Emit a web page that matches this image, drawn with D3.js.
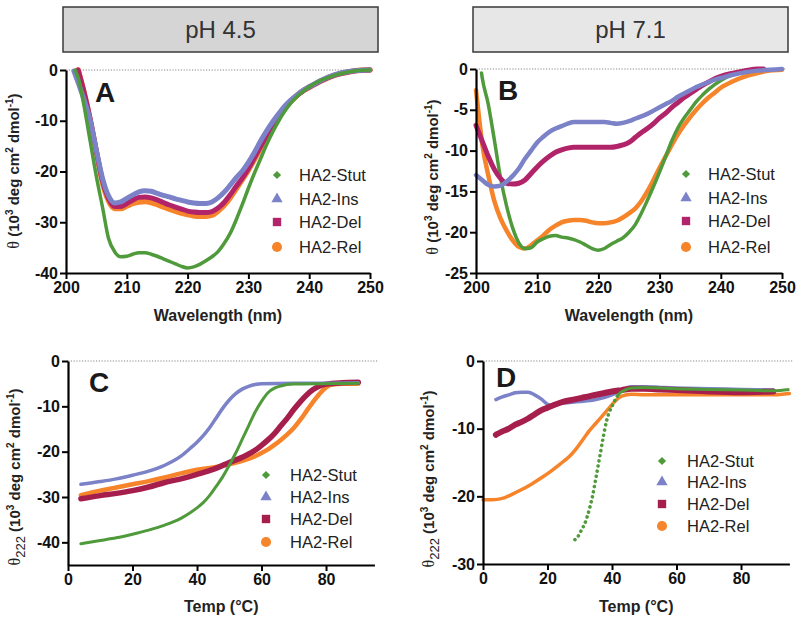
<!DOCTYPE html>
<html><head><meta charset="utf-8">
<script src="https://cdn.jsdelivr.net/npm/d3@7"></script>
<style>body{margin:0;background:#fff} text{font-family:"Liberation Sans",Arial,sans-serif}</style>
</head><body>
<svg id="c" width="800" height="622"></svg>
<script>
// ---------- DATA ----------
const seriesNames = ["HA2-Stut","HA2-Ins","HA2-Del","HA2-Rel"];
const headers = ["pH 4.5","pH 7.1"];

// Panel A (pH 4.5, wavelength scan)
const A_stut_x = [201.5,202,203,204,205,206,207,208,209,210,211,212,213,214,215,216,217,218,219,220,221,222,223,224,225,226,227,228,229,230,231,232,233,234,235,236,237,238,239,240,242,244,246,248,250];
const A_stut_y = [0,-1.5,-7.3,-14.2,-21,-27,-33.2,-35.8,-36.8,-36.7,-36.3,-36.0,-36.0,-36.3,-36.7,-37.2,-37.7,-38.2,-38.7,-39.0,-38.8,-38.3,-37.6,-36.8,-35.8,-34.2,-32.2,-29.5,-26.5,-23.3,-20.3,-17.5,-14.7,-12.2,-10,-8.1,-6.5,-5.2,-4.2,-3.3,-2.0,-1.1,-0.5,-0.1,0];
const A_ins_x = [201.3,202,203,204,205,206,207,208,209,210,211,212,213,214,215,216,217,218,219,220,221,222,223,224,225,226,227,228,229,230,231,232,233,234,235,236,237,238,239,240,242,244,246,248,250];
const A_ins_y = [-0.2,-2.5,-6,-10,-15.8,-21.3,-24.8,-26.2,-26.0,-25.3,-24.6,-24.0,-23.8,-23.9,-24.3,-24.7,-25.0,-25.4,-25.7,-26.0,-26.2,-26.3,-26.3,-26.0,-25.2,-24.1,-22.7,-21.2,-19.9,-18.2,-16.2,-14.0,-12.0,-10.2,-8.6,-7.1,-5.9,-4.9,-4.0,-3.3,-2.0,-1.0,-0.4,-0.1,0];
const A_del_x = [202,203,204,205,206,207,208,209,210,211,212,213,214,215,216,217,218,219,220,221,222,223,224,225,226,227,228,229,230,231,232,233,234,235,236,237,238,239,240,242,244,246,248,250];
const A_del_y = [0,-4.5,-9.8,-16,-21.8,-25.3,-26.9,-26.9,-26.3,-25.6,-25.1,-25.0,-25.2,-25.6,-26.1,-26.6,-27.0,-27.4,-27.8,-28.0,-28.1,-28.1,-27.9,-27.2,-26.1,-24.6,-22.9,-21.3,-19.4,-17.3,-15.1,-12.9,-10.8,-9.0,-7.4,-6.1,-5.0,-4.1,-3.4,-2.1,-1.1,-0.5,-0.1,0];
const A_rel_x = [202,203,204,205,206,207,208,209,210,211,212,213,214,215,216,217,218,219,220,221,222,223,224,225,226,227,228,229,230,231,232,233,234,235,236,237,238,239,240,242,244,246,248,250];
const A_rel_y = [0,-4.6,-10,-16.3,-22.2,-25.8,-27.3,-27.3,-26.8,-26.3,-26.0,-25.9,-26.1,-26.5,-27.0,-27.4,-27.8,-28.2,-28.5,-28.7,-28.8,-28.8,-28.6,-27.8,-26.7,-25.2,-23.4,-21.6,-19.7,-17.6,-15.4,-13.1,-11.0,-9.1,-7.5,-6.2,-5.0,-4.1,-3.4,-2.1,-1.1,-0.5,-0.1,0];

// Panel B (pH 7.1, wavelength scan)
const B_stut_x = [200.9,201,202,203,204,205,206,207,208,209,210,211,212,213,214,215,216,217,218,219,220,221,222,223,224,225,226,227,228,229,230,231,232,233,234,235,236,237,238,240,242,244,246,247];
const B_stut_y = [-0.5,-1.0,-4.3,-8.7,-13.3,-16.8,-19.5,-21.3,-22.0,-21.9,-21.2,-20.8,-20.5,-20.4,-20.6,-20.7,-20.9,-21.2,-21.6,-22.0,-22.2,-22.0,-21.5,-21.1,-20.7,-20.0,-19.1,-17.7,-16.1,-14.4,-12.6,-10.7,-8.8,-7.2,-6.0,-5.0,-4.0,-3.2,-2.5,-1.4,-0.7,-0.3,-0.05,0];
const B_ins_x = [200,201,202,203,204,205,206,207,208,209,210,211,212,213,214,215,216,217,218,219,220,221,222,223,224,225,226,227,228,229,230,231,232,233,234,235,236,237,238,239,240,242,244,246,248,250];
const B_ins_y = [-13.0,-13.6,-14.2,-14.4,-14.3,-13.8,-13.1,-12.2,-11.0,-10.0,-9.0,-8.3,-7.7,-7.3,-7.0,-6.7,-6.5,-6.5,-6.5,-6.5,-6.5,-6.5,-6.6,-6.7,-6.6,-6.4,-6.1,-5.8,-5.5,-5.1,-4.7,-4.3,-3.9,-3.4,-3.0,-2.6,-2.2,-1.9,-1.6,-1.3,-1.1,-0.7,-0.4,-0.2,-0.1,0];
const B_del_x = [200,201,202,203,204,205,206,207,208,209,210,211,212,213,214,215,216,217,218,219,220,221,222,223,224,225,226,227,228,229,230,231,232,233,234,235,236,237,238,239,240,242,244,246,247];
const B_del_y = [-6.9,-8.8,-10.7,-12.3,-13.4,-14.0,-14.1,-14.0,-13.6,-12.8,-12.0,-11.3,-10.7,-10.2,-9.9,-9.7,-9.6,-9.6,-9.6,-9.6,-9.6,-9.6,-9.6,-9.5,-9.3,-9.0,-8.4,-7.8,-7.3,-6.7,-6.0,-5.4,-4.7,-4.1,-3.5,-3.0,-2.5,-2.0,-1.6,-1.2,-0.9,-0.5,-0.2,0,0];
const B_rel_x = [200,200.5,201,202,203,204,205,206,207,208,209,210,211,212,213,214,215,216,217,218,219,220,221,222,223,224,225,226,227,228,229,230,231,232,233,234,235,236,237,238,239,240,242,244,246,248,250];
const B_rel_y = [-2.6,-6,-9.1,-13,-16.2,-18.3,-19.8,-21.0,-21.8,-22.0,-21.6,-21.0,-20.4,-19.7,-19.2,-18.8,-18.6,-18.5,-18.5,-18.6,-18.8,-18.9,-18.9,-18.8,-18.6,-18.2,-17.7,-17.1,-16.2,-15.0,-13.6,-12.1,-10.7,-9.3,-8.0,-6.9,-5.9,-5.0,-4.2,-3.5,-2.9,-2.3,-1.5,-0.9,-0.5,-0.2,-0.1];

// Panel C (pH 4.5, thermal melt)
const C_stut_x = [4,10,15,20,25,30,35,38,40,42,44,46,48,50,52,54,56,58,60,62,64,66,70,80,90];
const C_stut_y = [-40.3,-39.6,-39.0,-38.2,-37.3,-36.2,-34.7,-33.4,-32.4,-31.2,-29.6,-27.6,-25.5,-23.0,-20.3,-17.3,-14.3,-11.3,-8.9,-7.0,-6.0,-5.5,-5.1,-5.0,-4.9];
const C_ins_x = [4,10,15,20,25,30,35,38,40,42,44,46,48,50,52,54,56,58,60,70,80,90];
const C_ins_y = [-27.2,-26.6,-26.0,-25.2,-24.3,-23.0,-21.0,-19.2,-17.9,-16.4,-14.6,-12.5,-10.4,-8.6,-7.2,-6.2,-5.6,-5.2,-5.0,-4.9,-4.9,-4.8];
const C_del_x = [4,10,15,20,25,30,35,40,45,50,55,58,60,62,64,66,68,70,72,74,76,78,80,85,90];
const C_del_y = [-30.4,-29.7,-29.2,-28.6,-27.8,-26.8,-26.0,-25.0,-23.9,-22.4,-20.9,-19.7,-18.6,-17.4,-16.0,-14.3,-12.6,-10.7,-9.0,-7.5,-6.3,-5.5,-5.1,-4.8,-4.7];
const C_rel_x = [4,10,15,20,25,30,35,40,45,50,55,58,60,62,64,66,68,70,72,74,76,78,80,82,85,90];
const C_rel_y = [-29.6,-28.6,-27.9,-27.2,-26.5,-25.7,-24.8,-24.0,-23.5,-22.8,-21.8,-21.0,-20.3,-19.5,-18.5,-17.4,-16.2,-14.8,-13.0,-11.0,-9.0,-7.2,-5.8,-5.2,-5.0,-5.0];

// Panel D (pH 7.1, thermal melt)
const D_stut_x = [28.5,29.5,30.5,31.5,32.3,33.2,34,34.7,35.5,36.3,37.3,38.4,39.2,39.9,40.7,41.5,42.5,44,46,50,55,60,70,80,90,95];
const D_stut_y = [-26.4,-25.9,-25.0,-24.1,-23.0,-21.5,-19.9,-18.1,-16.0,-13.9,-11.2,-8.7,-7.5,-6.8,-6.0,-5.3,-4.7,-4.3,-4.0,-3.9,-4.0,-4.1,-4.2,-4.3,-4.4,-4.2];
const D_ins_x = [4,6,8,10,12,14,16,18,20,21,22,25,30,35,40,43,46,50,55,60,70,80,90];
const D_ins_y = [-5.7,-5.3,-5.0,-4.7,-4.6,-4.6,-5.0,-5.6,-6.4,-6.6,-6.4,-6.2,-6.0,-5.7,-5.0,-4.3,-3.8,-3.8,-3.9,-4.0,-4.1,-4.2,-4.3];
const D_del_x = [4,6,8,10,12,14,16,18,20,22,25,28,31,34,37,40,43,46,50,55,60,70,80,90];
const D_del_y = [-10.9,-10.4,-10.0,-9.4,-9.0,-8.5,-7.9,-7.3,-6.9,-6.5,-6.0,-5.7,-5.4,-5.1,-4.8,-4.5,-4.3,-4.1,-4.1,-4.2,-4.3,-4.5,-4.6,-4.5];
const D_rel_x = [0,3,6,9,12,15,18,21,24,27,29,31,33,35,37,39,41,43,46,50,60,70,80,90,95];
const D_rel_y = [-20.5,-20.5,-20.3,-19.7,-19.0,-18.2,-17.3,-16.3,-15.2,-14.0,-12.9,-11.6,-10.3,-9.2,-8.1,-7.0,-5.9,-5.2,-4.9,-5.0,-5.0,-5.0,-5.0,-5.0,-4.8];

const wlTicks = [200,210,220,230,240,250];
const tempTicks = [0,20,40,60,80];
const A_yTicks = [0,-10,-20,-30,-40];
const B_yTicks = [0,-5,-10,-15,-20,-25];
const C_yTicks = [0,-10,-20,-30,-40];
const D_yTicks = [0,-10,-20,-30];

// ---------- STYLE ----------
const green = "#4f9a3a", blue = "#7b82c7", orange = "#f5842a";
const magAB = "#b2246a", magCD = "#a61f4c";
const svg = d3.select("#c");

// header boxes
const hdr = [{t:headers[0], x0:63, x1:378, fill:"#d5d5d5"},{t:headers[1], x0:473, x1:788, fill:"#e7e7e7"}];
hdr.forEach(h=>{
  svg.append("rect").attr("x",h.x0).attr("y",7).attr("width",h.x1-h.x0).attr("height",45)
    .attr("fill",h.fill).attr("stroke","#3a3a3a").attr("stroke-width",1.5);
  svg.append("text").attr("x",(h.x0+h.x1)/2).attr("y",38).attr("text-anchor","middle")
    .attr("font-size",24).attr("fill","#333").text(h.t);
});

const panels = [
 {L:"A", xr:[66,370], yr:[273,70], xd:[200,250], yd:[-40,0], xt:wlTicks, yt:A_yTicks, mag:magAB,
  xl:"Wavelength (nm)", xlY:321, sub:false, ytX:19, ytY:171, letter:[95,102],
  leg:{mx:277, tx:299, ys:[175,199,222,247]},
  s:[[A_rel_x,A_rel_y,orange,5.5],[A_del_x,A_del_y,magAB,5],[A_ins_x,A_ins_y,blue,5],[A_stut_x,A_stut_y,green,3.5]]},
 {L:"B", xr:[476,782], yr:[273,69], xd:[200,250], yd:[-25,0], xt:wlTicks, yt:B_yTicks, mag:magAB,
  xl:"Wavelength (nm)", xlY:321, sub:false, ytX:438, ytY:177, letter:[498,100],
  leg:{mx:686, tx:708, ys:[174,198,221,247]},
  s:[[B_rel_x,B_rel_y,orange,4.5],[B_stut_x,B_stut_y,green,3.5],[B_del_x,B_del_y,magAB,5],[B_ins_x,B_ins_y,blue,4.5]]},
 {L:"C", xr:[68,374.4], yr:[565,361], xd:[0,95], yd:[-45,0], xt:tempTicks, yt:C_yTicks, mag:magCD,
  xl:"Temp (°C)", xlY:612, sub:true, ytX:20, ytY:477, letter:[89,392],
  leg:{mx:266, tx:290, ys:[475,497,519,542]},
  s:[[C_rel_x,C_rel_y,orange,4.5],[C_del_x,C_del_y,magCD,5.5],[C_ins_x,C_ins_y,blue,3.5],[C_stut_x,C_stut_y,green,3]]},
 {L:"D", xr:[483,789.4], yr:[564,361], xd:[0,95], yd:[-30,0], xt:tempTicks, yt:D_yTicks, mag:magCD,
  xl:"Temp (°C)", xlY:612, sub:true, ytX:434, ytY:479, letter:[496,387],
  leg:{mx:662, tx:687, ys:[461,482,504,526]},
  s:[[D_rel_x,D_rel_y,orange,3.5],[D_ins_x,D_ins_y,blue,3.5],[D_del_x,D_del_y,magCD,6],[D_stut_x,D_stut_y,green,3,"dots"]]}
];

panels.forEach(p=>{
  const x = d3.scaleLinear().domain(p.xd).range(p.xr);
  const y = d3.scaleLinear().domain(p.yd).range(p.yr);
  const g = svg.append("g");
  // zero line
  g.append("line").attr("x1",p.xr[0]).attr("x2",p.xr[1]+4).attr("y1",y(0)).attr("y2",y(0))
    .attr("stroke","#888").attr("stroke-width",1).attr("stroke-dasharray","1.2,1.6");
  // series
  const line = d3.line().x(d=>x(d[0])).y(d=>y(d[1])).curve(d3.curveMonotoneX);
  p.s.forEach(([xs,ys,col,w,mode])=>{
    const pts = xs.map((v,i)=>[v,ys[i]]);
    if(mode==="dots"){
      const steep = pts.filter(d=>d[0]<=42.5), flat = pts.filter(d=>d[0]>=41.5);
      g.append("path").attr("d",line(steep)).attr("fill","none").attr("stroke",col)
        .attr("stroke-width",3.6).attr("stroke-linecap","round").attr("stroke-dasharray","0.01,5.2");
      g.append("path").attr("d",line(flat)).attr("fill","none").attr("stroke",col)
        .attr("stroke-width",w).attr("stroke-linejoin","round");
    } else {
      g.append("path").attr("d",line(pts)).attr("fill","none").attr("stroke",col)
        .attr("stroke-width",w).attr("stroke-linejoin","round").attr("stroke-linecap","round");
    }
  });
  // axes
  const ax = g.append("g").attr("transform",`translate(0,${p.yr[0]})`)
    .call(d3.axisBottom(x).tickValues(p.xt).tickSize(6).tickSizeOuter(0).tickPadding(3).tickFormat(d3.format("d")));
  const ay = g.append("g").attr("transform",`translate(${p.xr[0]},0)`)
    .call(d3.axisLeft(y).tickValues(p.yt).tickSize(6).tickSizeOuter(0).tickPadding(2).tickFormat(d3.format("d")));
  [ax,ay].forEach(a=>{
    a.select(".domain").attr("stroke","#000").attr("stroke-width",2.2);
    a.selectAll(".tick line").attr("stroke","#000").attr("stroke-width",2);
    a.selectAll("text").attr("font-size",16).attr("font-weight","bold").attr("fill","#111")
      .attr("font-family","'Liberation Sans',Arial,sans-serif");
  });
  ay.selectAll("text").text(d=>d===0?"0":"-"+Math.abs(d));
  // x title
  g.append("text").attr("x",(p.xr[0]+p.xr[1])/2).attr("y",p.xlY).attr("text-anchor","middle")
    .attr("font-size",16).attr("font-weight","bold").attr("fill","#222").text(p.xl);
  // y title
  const yt = g.append("text").attr("transform",`translate(${p.ytX},${p.ytY}) rotate(-90)`)
    .attr("text-anchor","middle").attr("font-size",15).attr("font-weight","bold").attr("fill","#222");
  yt.append("tspan").attr("font-family","'Liberation Serif','DejaVu Serif',serif").attr("font-weight","normal").attr("font-size",16).text("θ");
  if(p.sub) yt.append("tspan").attr("dy",5).attr("font-size",13).attr("font-weight","normal").text("222");
  yt.append("tspan").attr("dy",p.sub?-5:0).text(" (10");
  yt.append("tspan").attr("dy",-6).attr("font-size",10).text("3");
  yt.append("tspan").attr("dy",6).text(" deg cm");
  yt.append("tspan").attr("dy",-6).attr("font-size",10).text("2");
  yt.append("tspan").attr("dy",6).text(" dmol");
  yt.append("tspan").attr("dy",-6).attr("font-size",10).text("-1");
  yt.append("tspan").attr("dy",6).text(")");
  // panel letter
  g.append("text").attr("x",p.letter[0]).attr("y",p.letter[1]).attr("font-size",28).attr("font-weight","bold")
    .attr("fill","#1a1a1a").text(p.L);
  // legend
  const cols = [green, blue, p.mag, orange];
  const sym = [d3.symbolSquare, d3.symbolTriangle, d3.symbolSquare, d3.symbolCircle];
  const sz = [34, 55, 70, 80];
  const rot = [45, 0, 0, 0];
  seriesNames.forEach((n,i)=>{
    const yy = p.leg.ys[i];
    g.append("path").attr("d",d3.symbol().type(sym[i]).size(sz[i])())
      .attr("transform",`translate(${p.leg.mx},${yy}) rotate(${rot[i]})`).attr("fill",cols[i]);
    g.append("text").attr("x",p.leg.tx).attr("y",yy+6).attr("font-size",16.5).attr("fill","#222").text(n);
  });
});
</script>
</body></html>
